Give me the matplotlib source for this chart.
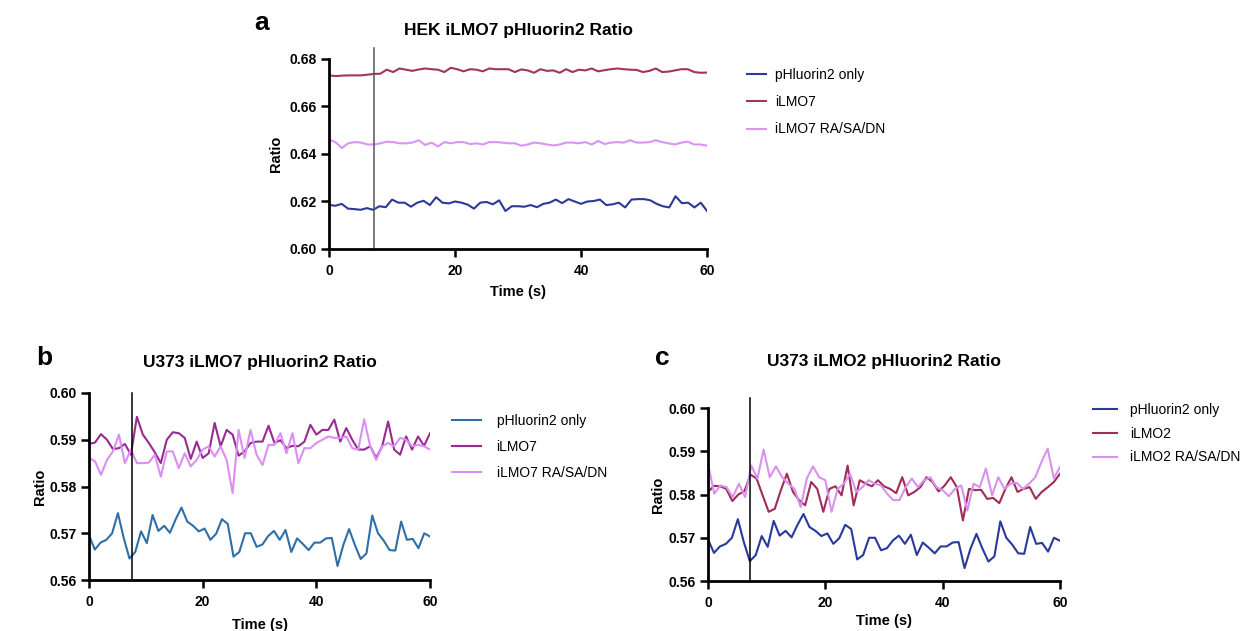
import matplotlib as mpl
mpl.use('Agg')

from matplotlib import pyplot as plt
import numpy as np

plt.rcParams['font.family'] = ['Liberation Sans', 'DejaVu Sans']

# ---- panel a: HEK iLMO7 ----
a_only = [0.6186, 0.6182, 0.6190, 0.6170, 0.6168, 0.6165, 0.6172, 0.6165, 0.6180, 0.6176,
          0.6208, 0.6195, 0.6195, 0.6178, 0.6195, 0.6203, 0.6185, 0.6218, 0.6195, 0.6192,
          0.6200, 0.6195, 0.6187, 0.6170, 0.6195, 0.6198, 0.6188, 0.6205, 0.6160, 0.6180,
          0.6180, 0.6178, 0.6185, 0.6176, 0.6190, 0.6195, 0.6208, 0.6193, 0.6210, 0.6200,
          0.6190, 0.6200, 0.6202, 0.6208, 0.6185, 0.6188, 0.6195, 0.6175, 0.6208, 0.6210,
          0.6210, 0.6205, 0.6190, 0.6180, 0.6175, 0.6222, 0.6193, 0.6195, 0.6175, 0.6195, 0.6160]
a_ilmo7 = [0.6731, 0.6728, 0.6730, 0.6731, 0.6731, 0.6731, 0.6734, 0.6737, 0.6738,
           0.6755, 0.6745, 0.6760, 0.6755, 0.6750, 0.6756, 0.6760, 0.6757, 0.6755, 0.6745,
           0.6763, 0.6757, 0.6748, 0.6757, 0.6755, 0.6748, 0.6760, 0.6757, 0.6757, 0.6757,
           0.6745, 0.6756, 0.6752, 0.6742, 0.6757, 0.6750, 0.6752, 0.6742, 0.6757, 0.6745,
           0.6755, 0.6752, 0.6760, 0.6748, 0.6753, 0.6757, 0.6760, 0.6757, 0.6755, 0.6754,
           0.6745, 0.6750, 0.6760, 0.6745, 0.6747, 0.6752, 0.6757, 0.6757, 0.6745, 0.6742, 0.6743]
a_mut = [0.6460, 0.6450, 0.6425, 0.6445, 0.6450, 0.6448, 0.6440, 0.6440, 0.6445, 0.6452,
         0.6450, 0.6445, 0.6445, 0.6448, 0.6458, 0.6438, 0.6448, 0.6432, 0.6450, 0.6445,
         0.6450, 0.6450, 0.6442, 0.6445, 0.6440, 0.6450, 0.6450, 0.6448, 0.6445, 0.6445,
         0.6435, 0.6440, 0.6448, 0.6445, 0.6440, 0.6436, 0.6440, 0.6448, 0.6448, 0.6445,
         0.6450, 0.6440, 0.6455, 0.6442, 0.6448, 0.6450, 0.6448, 0.6458, 0.6448, 0.6448,
         0.6450, 0.6458, 0.6450, 0.6445, 0.6440, 0.6448, 0.6452, 0.6440, 0.6440, 0.6435]

# ---- U373 pHluorin2 only (same trace in b and c) ----
u_only = [0.5696, 0.5665, 0.5680, 0.5686, 0.5700, 0.5743, 0.5690, 0.5646, 0.5660, 0.5704,
          0.5679, 0.5739, 0.5705, 0.5716, 0.5701, 0.5730, 0.5755, 0.5725, 0.5716, 0.5704,
          0.5710, 0.5686, 0.5699, 0.5730, 0.5720, 0.5650, 0.5660, 0.5700, 0.5700, 0.5671,
          0.5676, 0.5694, 0.5705, 0.5686, 0.5707, 0.5660, 0.5689, 0.5677, 0.5664, 0.5680,
          0.5680, 0.5689, 0.5690, 0.5630, 0.5675, 0.5709, 0.5675, 0.5645, 0.5657, 0.5738,
          0.5700, 0.5684, 0.5664, 0.5663, 0.5725, 0.5686, 0.5688, 0.5668, 0.5700, 0.5693]

# ---- panel b: U373 iLMO7 ----
b_ilmo7 = [0.5891, 0.5894, 0.5912, 0.5900, 0.5880, 0.5882, 0.5891, 0.5868, 0.5949, 0.5911,
           0.5893, 0.5873, 0.5850, 0.5900, 0.5916, 0.5914, 0.5904, 0.5859, 0.5896, 0.5861,
           0.5871, 0.5936, 0.5886, 0.5921, 0.5911, 0.5866, 0.5875, 0.5893, 0.5896, 0.5896,
           0.5930, 0.5893, 0.5899, 0.5882, 0.5887, 0.5886, 0.5896, 0.5932, 0.5911, 0.5921,
           0.5921, 0.5943, 0.5896, 0.5925, 0.5900, 0.5879, 0.5879, 0.5886, 0.5861, 0.5886,
           0.5939, 0.5879, 0.5868, 0.5907, 0.5879, 0.5907, 0.5887, 0.5914]
b_mut = [0.5861, 0.5854, 0.5825, 0.5857, 0.5875, 0.5911, 0.5850, 0.5879, 0.5850, 0.5850,
         0.5851, 0.5868, 0.5821, 0.5875, 0.5875, 0.5839, 0.5871, 0.5843, 0.5857, 0.5879,
         0.5886, 0.5864, 0.5886, 0.5857, 0.5786, 0.5921, 0.5861, 0.5921, 0.5868, 0.5846,
         0.5889, 0.5889, 0.5914, 0.5871, 0.5914, 0.5850, 0.5882, 0.5882, 0.5893, 0.5900,
         0.5907, 0.5904, 0.5904, 0.5907, 0.5882, 0.5879, 0.5944, 0.5886, 0.5857, 0.5886,
         0.5893, 0.5886, 0.5904, 0.5900, 0.5886, 0.5889, 0.5886, 0.5879]

# ---- panel c: U373 iLMO2 ----
c_ilmo2 = [0.5806, 0.5820, 0.5819, 0.5813, 0.5785, 0.5800, 0.5808, 0.5846, 0.5837, 0.5798,
           0.5760, 0.5767, 0.5810, 0.5848, 0.5806, 0.5787, 0.5775, 0.5829, 0.5813, 0.5760,
           0.5813, 0.5819, 0.5798, 0.5867, 0.5775, 0.5833, 0.5825, 0.5819, 0.5833, 0.5819,
           0.5813, 0.5803, 0.5840, 0.5798, 0.5806, 0.5817, 0.5840, 0.5829, 0.5807, 0.5821,
           0.5840, 0.5817, 0.5740, 0.5813, 0.5810, 0.5811, 0.5790, 0.5792, 0.5780, 0.5813,
           0.5840, 0.5806, 0.5813, 0.5817, 0.5790, 0.5806, 0.5817, 0.5829, 0.5848]
c_mut = [0.5871, 0.5802, 0.5821, 0.5817, 0.5794, 0.5825, 0.5794, 0.5867, 0.5837, 0.5904,
         0.5840, 0.5865, 0.5840, 0.5825, 0.5813, 0.5771, 0.5837, 0.5865, 0.5840, 0.5833,
         0.5760, 0.5813, 0.5825, 0.5848, 0.5806, 0.5817, 0.5833, 0.5825, 0.5821, 0.5802,
         0.5787, 0.5787, 0.5817, 0.5837, 0.5817, 0.5833, 0.5840, 0.5817, 0.5810, 0.5796,
         0.5813, 0.5821, 0.5763, 0.5825, 0.5817, 0.5860, 0.5798, 0.5840, 0.5813, 0.5825,
         0.5827, 0.5813, 0.5825, 0.5840, 0.5875, 0.5906, 0.5837, 0.5864]

panels = [
    dict(title='HEK iLMO7 pHluorin2 Ratio', letter='a',
         series=[(a_only, 'pHluorin2 only', '#2b3a97'),
                 (a_ilmo7, 'iLMO7', '#a3345f'),
                 (a_mut, 'iLMO7 RA/SA/DN', '#d796f2')],
         ylim=(0.60, 0.68), ystep=0.02, stim=7.1, stim_top=1.058, stim_color='#555555',
         rect=[0.2643, 0.6054, 0.3036, 0.3011], pad=17, letter_xy=(0.204, 0.963),
         leg=(0.6000, 0.8922), hl=1.4, htp=0.6, ls=0.95, ylab_x=-0.122, xlab_y=-0.19),
    dict(title='U373 iLMO7 pHluorin2 Ratio', letter='b',
         series=[(u_only, 'pHluorin2 only', '#2f6fa8'),
                 (b_ilmo7, 'iLMO7', '#972b8f'),
                 (b_mut, 'iLMO7 RA/SA/DN', '#dc8ef5')],
         ylim=(0.56, 0.60), ystep=0.01, stim=7.6, stim_top=1.0, stim_color='black',
         rect=[0.0715, 0.0808, 0.2739, 0.2964], pad=19, letter_xy=(0.029, 0.433),
         leg=(0.3631, 0.3439), hl=2.1, htp=1.1, ls=0.85, ylab_x=-0.122, xlab_y=-0.203),
    dict(title='U373 iLMO2 pHluorin2 Ratio', letter='c',
         series=[(u_only, 'pHluorin2 only', '#283a9a'),
                 (c_ilmo2, 'iLMO2', '#a02c58'),
                 (c_mut, 'iLMO2 RA/SA/DN', '#d792ef')],
         ylim=(0.56, 0.60), ystep=0.01, stim=7.2, stim_top=1.058, stim_color='black',
         rect=[0.5687, 0.0792, 0.2827, 0.2742], pad=30, letter_xy=(0.526, 0.433),
         leg=(0.8779, 0.3613), hl=1.7, htp=1.0, ls=0.7, ylab_x=-0.122, xlab_y=-0.19),
]

fig = plt.figure(figsize=(12.45, 6.31), dpi=100)

for p in panels:
    ax = fig.add_axes(p['rect'])
    for vals, label, color in p['series']:
        t = np.linspace(0, 60, len(vals))
        ax.plot(t, vals, color=color, lw=1.5, label=label)
    # stimulus marker
    ax.axvline(p['stim'], ymin=0, ymax=p['stim_top'], color=p['stim_color'],
               lw=1.1, clip_on=False)

    ax.set_xlim(0, 60)
    ax.set_ylim(*p['ylim'])
    ax.set_xticks([0, 20, 40, 60])
    ax.set_yticks(np.arange(p['ylim'][0], p['ylim'][1] + 1e-9, p['ystep']))
    ax.yaxis.set_major_formatter(mpl.ticker.FormatStrFormatter('%.2f'))
    for lab in ax.get_xticklabels() + ax.get_yticklabels():
        lab.set_fontweight('bold')
    ax.tick_params(labelsize=10, width=1.8, length=5.5, direction='out')
    ax.tick_params(axis='x', pad=5)

    for s in ['top', 'right']:
        ax.spines[s].set_visible(False)
    for s in ['left', 'bottom']:
        ax.spines[s].set_linewidth(2.0)

    ax.set_title(p['title'], fontsize=12.5, fontweight='bold', pad=p['pad'])
    ax.set_xlabel('Time (s)', fontsize=10.5, fontweight='bold')
    ax.set_ylabel('Ratio', fontsize=10.5, fontweight='bold')
    ax.xaxis.set_label_coords(0.5, p['xlab_y'])
    ax.yaxis.set_label_coords(p['ylab_x'], 0.5)

    ax.legend(loc='upper left', bbox_to_anchor=p['leg'], bbox_transform=fig.transFigure,
              frameon=False, fontsize=10, handlelength=p['hl'], handletextpad=p['htp'],
              labelspacing=p['ls'], borderpad=0, borderaxespad=0)

    fig.text(p['letter_xy'][0], p['letter_xy'][1], p['letter'], fontsize=19,
             fontweight='bold', va='center')

plt.savefig('out.png', dpi=100)
plt.close()
